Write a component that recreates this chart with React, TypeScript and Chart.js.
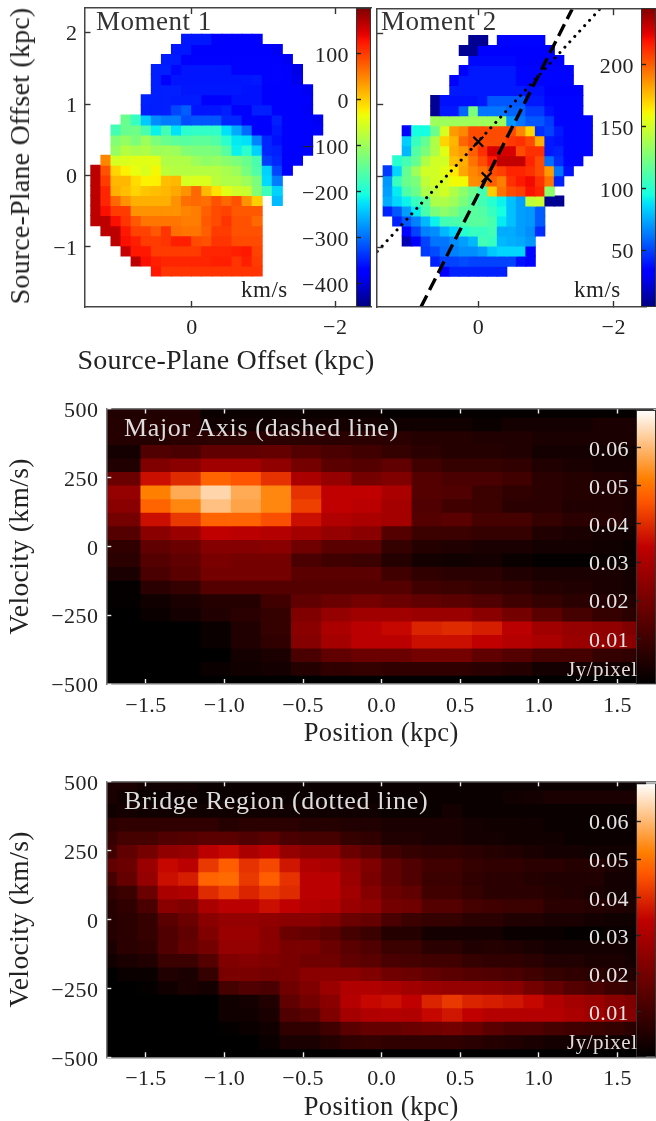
import React, { useEffect, useRef } from "react";
import { Chart, registerables } from "chart.js";

Chart.register(...registerables);

const _ = null;
const FONT = "'Liberation Serif'";

const momentColumns = [1.342, 1.201, 1.06, 0.92, 0.779, 0.638, 0.497, 0.356, 0.216, 0.075, -0.066, -0.207, -0.348, -0.488, -0.629, -0.77, -0.911, -1.052, -1.192, -1.333, -1.474, -1.615, -1.756];
const momentRows = [1.907, 1.766, 1.625, 1.484, 1.343, 1.202, 1.061, 0.92, 0.779, 0.638, 0.497, 0.356, 0.215, 0.074, -0.067, -0.208, -0.349, -0.49, -0.631, -0.772, -0.913, -1.054, -1.195, -1.336];

const moment1Start = [9, 8, 7, 6, 6, 6, 5, 5, 3, 2, 2, 2, 1, 0, 0, 0, 0, 0, 0, 1, 2, 3, 4, 6];
const moment1Values = [
  [-355, -355, -355, -370, -372, -372, -372, -370],
  [-355, -355, -372, -372, -372, -372, -372, -372, -372, -372, -385],
  [-352, -352, -368, -368, -368, -368, -368, -368, -368, -368, -368, -372, -385],
  [-350, -350, -365, -356, -356, -356, -356, -356, -368, -368, -368, -368, -368, -372, -392],
  [-350, -372, -356, -356, -356, -356, -356, -356, -356, -356, -354, -368, -368, -372, -388],
  [-350, -350, -350, -355, -355, -355, -355, -355, -355, -358, -358, -370, -372, -372, -372, -385],
  [-348, -350, -350, -352, -352, -352, -375, -375, -375, -358, -358, -358, -372, -372, -372, -372, -378],
  [-350, -350, -350, -325, -310, -356, -356, -356, -350, -372, -372, -350, -350, -372, -372, -372, -382],
  [-140, -180, -240, -280, -290, -290, -320, -315, -315, -315, -345, -345, -372, -372, -372, -350, -372, -372, -372, -385],
  [-170, -140, -135, -165, -215, -170, -225, -190, -185, -185, -185, -225, -260, -300, -372, -372, -355, -372, -372, -372, -380],
  [-120, -105, -125, -100, -125, -140, -150, -155, -150, -150, -160, -190, -220, -225, -285, -345, -360, -372, -372, -372],
  [-105, -80, -90, -85, -100, -95, -100, -120, -125, -125, -130, -155, -215, -190, -235, -345, -350, -372, -372, -372],
  [50, -55, -50, -45, -45, -45, -85, -85, -85, -100, -110, -105, -115, -125, -140, -165, -330, -345, -372, -372],
  [165, 85, -5, -25, -40, -50, -30, -75, -80, -80, -80, -80, -80, -90, -100, -130, -160, -235, -325, -372],
  [165, 100, 15, 15, -10, -25, -25, 10, 15, -55, -50, -50, -75, -85, -85, -100, -125, -230, -290],
  [165, 115, 20, 10, -5, 5, 10, 15, 25, 40, 70, 15, -15, -45, -60, -65, -120, -175, -235],
  [165, 115, 70, 40, 20, 20, 20, 20, 40, 65, 70, 65, 85, 70, 85, 40, 0, _, -250],
  [165, 130, 100, 100, 40, 40, 40, 40, 40, 50, 55, 75, 90, 95, 80, 80, 80],
  [165, 165, 130, 105, 80, 60, 60, 60, 60, 55, 55, 80, 90, 105, 85, 85, 70],
  [165, 165, 125, 95, 95, 80, 105, 65, 60, 60, 75, 100, 100, 85, 85, 85],
  [165, 130, 120, 100, 100, 105, 120, 120, 90, 85, 105, 105, 90, 90, 90],
  [160, 125, 125, 100, 100, 100, 100, 100, 115, 115, 115, 120, 125, 95],
  [165, 130, 120, 115, 115, 115, 115, 115, 120, 120, 105, 120, 100],
  [125, 105, 105, 105, 105, 105, 105, 105, 105, 105, 105],
];

const moment2Start = [9, 8, 9, 8, 7, 7, 5, 5, 5, 2, 2, 2, 1, 0, 0, 0, 0, 0, 1, 2, 2, 4, 5, 6];
const moment2Values = [
  [8, 8, _, 35, 35, 35, 35, 35],
  [8, 8, 33, 33, 33, 33, 33, 33, 33, 33],
  [36, 36, 36, 36, 36, 33, 33, 33, 33, 33],
  [33, 40, 40, 40, 40, 40, 35, 35, 35, 35, 35, 35],
  [33, 40, 40, 40, 40, 40, 40, 35, 35, 35, 35, 35, 35],
  [40, 40, 40, 40, 40, 40, 40, 40, 38, 38, 33, 33, 33, 33],
  [8, 38, 38, 38, 38, 40, 55, 55, 55, 55, 40, 40, 35, 35, 35, 35],
  [8, 40, 40, 58, 125, 62, 62, 62, 58, 58, 48, 48, 38, 35, 35, 35],
  [135, 135, 135, 135, 135, 135, 135, 135, 70, 62, 55, 55, 48, 35, 35, 35, 35],
  [35, 95, 95, 120, 152, 185, 190, 205, 205, 205, 205, 205, 190, 170, 45, 50, 40, 35, 35, 35],
  [83, 105, 118, 140, 170, 178, 198, 205, 205, 205, 205, 210, 212, 205, 180, 40, 38, 35, 35, 35],
  [78, 113, 125, 140, 155, 180, 185, 200, 212, 228, 228, 228, 205, 212, 212, 40, 42, 35, 35, 35],
  [100, 108, 118, 140, 150, 150, 175, 180, 195, 205, 218, 232, 232, 232, 215, 205, 60, 45, 35, 35],
  [48, 85, 118, 135, 150, 150, 155, 165, 182, 190, 195, 205, 208, 215, 215, 212, 205, 185, 62, 38],
  [70, 105, 120, 125, 145, 150, 152, 160, 160, 188, 190, 200, 192, 212, 218, 222, 212, 195, 42],
  [72, 90, 112, 120, 140, 145, 150, 140, 130, 120, 108, 172, 195, 205, 208, 220, 215, 130],
  [75, 85, 92, 105, 115, 140, 140, 135, 125, 115, 108, 100, 92, 80, 72, 145, 148, 8, 8],
  [42, 55, 72, 90, 110, 125, 130, 125, 115, 115, 113, 105, 95, 80, 72, 70, 56],
  [42, 55, 65, 78, 92, 108, 110, 112, 115, 115, 110, 90, 80, 72, 70, 56],
  [35, 50, 65, 68, 78, 85, 100, 105, 105, 108, 75, 75, 72, 68, 45],
  [15, 33, 50, 62, 62, 68, 72, 78, 108, 105, 78, 76, 74, 70],
  [48, 52, 60, 65, 68, 68, 72, 82, 85, 85, 85, 35],
  [42, 50, 50, 52, 50, 50, 50, 50, 50, 38, 35],
  [33, 42, 42, 42, 42, 42, 42],
];

const dashedX = [0.853, -1.385];
const dashedY = [-1.84, 2.346];
const dottedX = [1.5, -1.794];
const dottedY = [-1.06, 2.346];
const crossX = [0.004, -0.12];
const crossY = [0.483, -0.017];

const velocityRows = [493, 444, 394, 345, 296, 247, 197, 148, 99, 49, 0, -49, -99, -148, -197, -247, -296, -345, -394, -444, -493];

const majorColumns = [-1.82, -1.628, -1.436, -1.245, -1.053, -0.861, -0.67, -0.478, -0.286, -0.095, 0.097, 0.289, 0.48, 0.672, 0.864, 1.055, 1.247, 1.439, 1.63];
// flux in mJy/pixel
const majorFlux = [
  [4, 4, 4, 0, 0, 0, 0, 0, 0, -1, -1, -1, -1, -1, -1, -1, -1, -1],
  [5, 5, 5, 1, 1, 1, 1, 2, 2, 1, 1, 1, 0, 2, 2, 2, 3, 3],
  [5, 5, 6, 6, 6, 6, 6, 6, 6, 6, 5, 5, 4, 4, 3, 3, 3, 3],
  [2, 13, 12, 16, 16, 17, 14, 12, 10, 8, 6, 5, 5, 4, 2, 2, 2, 1],
  [4, 22, 24, 28, 28, 25, 20, 15, 14, 16, 10, 8, 8, 7, 4, 3, 2, 2],
  [18, 36, 40, 48, 46, 41, 30, 26, 20, 22, 14, 12, 12, 10, 6, 5, 4, 3],
  [26, 52, 58, 64, 58, 53, 41, 34, 34, 30, 14, 13, 9, 7, 6, 5, 4, 3],
  [24, 48, 53, 61, 57, 53, 43, 34, 33, 29, 13, 10, 9, 6, 6, 4, 4, 3],
  [20, 36, 42, 48, 48, 45, 36, 31, 30, 29, 14, 15, 11, 11, 8, 6, 5, 3],
  [14, 24, 27, 34, 33, 32, 29, 26, 24, 14, 9, 9, 8, 8, 4, 3, 2, 1],
  [7, 16, 18, 23, 23, 24, 19, 15, 15, 8, 5, 4, 3, 3, 2, 2, 1, 0],
  [6, 14, 16, 21, 20, 20, 12, 10, 9, 5, 2, 1, 2, 0, -1, -1, 0, 0],
  [3, 12, 15, 20, 20, 20, 15, 15, 15, 10, 7, 6, 6, 4, 3, 3, 3, 2],
  [-1, 6, 8, 14, 14, 14, 14, 14, 14, 14, 10, 9, 8, 7, 5, 4, 3, 2],
  [-1, 1, 3, 5, 5, 10, 16, 18, 20, 18, 16, 15, 13, 10, 8, 6, 5, 4],
  [-2, 0, 2, 4, 6, 8, 22, 26, 28, 28, 27, 27, 24, 20, 15, 11, 8, 6],
  [-2, -2, -2, 0, 4, 8, 24, 30, 33, 35, 39, 40, 38, 33, 28, 26, 25, 22],
  [-2, -2, -2, 0, 4, 7, 23, 29, 33, 33, 36, 36, 34, 32, 30, 27, 26, 24],
  [-2, -2, -2, -2, 2, 3, 12, 16, 18, 18, 20, 20, 16, 14, 11, 11, 8, 7],
  [-2, -2, -2, 0, 1, 2, 5, 7, 8, 7, 7, 7, 6, 5, 2, 2, 2, 1],
  [-2, -2, -2, -2, -2, -2, -2, -2, -2, -2, -2, -2, -2, -2, -2, -2, -2, -2],
];

const bridgeColumns = [-1.745, -1.616, -1.487, -1.357, -1.228, -1.099, -0.97, -0.841, -0.712, -0.582, -0.453, -0.324, -0.195, -0.066, 0.064, 0.193, 0.322, 0.451, 0.58, 0.71, 0.839, 0.968, 1.097, 1.226, 1.356, 1.485, 1.614];
const bridgeFlux = [
  [3, 3, 1, 1, 1, 0, 0, 0, 0, 0, 0, 0, 0, 0, 0, 0, 0, 0, 0, 0, 0, 0, 0, 0, 0, 0, 0],
  [3, 1, 0, 0, 0, 0, 0, 0, 0, 0, 0, 0, 0, 0, 0, 0, 0, 0, 0, 0, 1, 2, 3, 3, 3, 3, 3],
  [1, 2, 1, 1, 1, 1, 1, 1, 1, 1, 1, 1, 1, 1, 0, 0, 0, 2, 0, 0, 0, 0, 0, 0, 0, 0, 0],
  [6, 7, 7, 7, 7, 7, 5, 6, 6, 6, 5, 5, 4, 4, 3, 3, 3, 3, 2, 1, 1, 1, 0, 0, 0, 0, 0],
  [8, 11, 11, 13, 14, 15, 15, 13, 15, 12, 11, 11, 8, 7, 4, 4, 3, 3, 2, 2, 1, 1, 1, 0, 0, 0, 0],
  [10, 16, 20, 25, 26, 33, 35, 30, 33, 26, 24, 24, 18, 15, 10, 8, 7, 7, 6, 5, 4, 3, 2, 2, 1, 1, 1],
  [16, 18, 27, 35, 33, 42, 47, 41, 44, 37, 31, 30, 26, 22, 16, 13, 10, 10, 8, 7, 7, 6, 6, 5, 5, 3, 2],
  [11, 17, 26, 36, 38, 48, 49, 42, 47, 41, 33, 33, 27, 21, 16, 13, 9, 9, 7, 6, 6, 5, 4, 4, 4, 2, 2],
  [7, 9, 18, 30, 31, 40, 43, 39, 42, 40, 33, 33, 28, 23, 18, 16, 10, 10, 8, 6, 6, 6, 5, 4, 3, 2, 2],
  [5, 7, 12, 24, 22, 30, 33, 33, 36, 34, 32, 31, 27, 25, 20, 19, 14, 14, 11, 10, 9, 9, 6, 6, 5, 4, 3],
  [5, 6, 8, 15, 18, 24, 26, 26, 25, 24, 24, 22, 18, 17, 12, 9, 8, 8, 6, 6, 4, 4, 3, 3, 2, 1, 1],
  [5, 6, 8, 13, 16, 22, 27, 27, 24, 18, 17, 15, 11, 9, 5, 5, 2, 2, 2, 2, 0, 0, 0, -1, -1, 0, 0],
  [3, 6, 7, 13, 17, 20, 26, 26, 24, 21, 21, 18, 15, 13, 9, 9, 6, 6, 4, 5, 4, 3, 2, 2, 2, 2, 1],
  [1, 3, 4, 9, 9, 14, 22, 23, 22, 21, 19, 19, 16, 15, 12, 11, 10, 10, 8, 7, 7, 6, 4, 4, 3, 3, 2],
  [-2, 0, 0, 4, 3, 8, 21, 21, 20, 21, 24, 24, 24, 22, 19, 18, 16, 15, 14, 13, 12, 10, 8, 7, 6, 5, 4],
  [-2, -2, -1, 1, 3, 2, 11, 13, 12, 19, 22, 27, 31, 31, 30, 28, 27, 26, 26, 25, 24, 20, 17, 14, 12, 9, 8],
  [-2, -2, -2, -2, -2, -2, 1, 2, 4, 16, 20, 24, 32, 35, 36, 34, 39, 42, 39, 38, 37, 35, 31, 29, 27, 24, 22],
  [-2, -2, -2, -2, -2, -2, 1, 1, 3, 13, 15, 22, 29, 31, 32, 31, 35, 37, 34, 32, 32, 32, 32, 30, 28, 25, 23],
  [-2, -2, -2, -2, -2, -2, -1, 0, 1, 7, 7, 10, 15, 17, 17, 18, 19, 20, 18, 15, 13, 13, 11, 10, 9, 8, 6],
  [-2, -2, -2, -2, -2, -2, -2, -2, 0, 3, 3, 5, 7, 8, 7, 7, 7, 7, 6, 5, 4, 3, 2, 2, 2, 1, 1],
  [-2, -2, -2, -2, -2, -2, -2, -2, -2, -2, -2, -2, -2, -2, -2, -2, -2, -2, -2, -2, -2, -2, -2, -2, -2, -2, -2],
];

const momentYTicks = [-1, 0, 1, 2];
const momentXTicks = [0, -2];
const positionTicks = [-1.5, -1, -0.5, 0, 0.5, 1, 1.5];
const velocityTicks = [-500, -250, 0, 250, 500];
const moment1BarTicks = [-400, -300, -200, -100, 0, 100];
const moment2BarTicks = [50, 100, 150, 200];
const fluxBarTicks = [0.01, 0.02, 0.03, 0.04, 0.05, 0.06];

const M1_RANGE = [-450, 199];
const M2_RANGE = [4, 246];
const FLUX_RANGE = [-0.002, 0.0699];

function lerp(t: number, pts: number[][]) {
  if (t <= pts[0][0]) return pts[0][1];
  for (let i = 1; i < pts.length; i++) {
    if (t <= pts[i][0]) {
      const [a, va] = pts[i - 1];
      const [b, vb] = pts[i];
      return va + ((t - a) / (b - a)) * (vb - va);
    }
  }
  return pts[pts.length - 1][1];
}
function jet(t: number) {
  const r = lerp(t, [[0.35, 0], [0.66, 1], [0.89, 1], [1, 0.5]]);
  const g = lerp(t, [[0.125, 0], [0.375, 1], [0.64, 1], [0.91, 0]]);
  const b = lerp(t, [[0, 0.5], [0.11, 1], [0.34, 1], [0.65, 0]]);
  return `rgb(${r * 255},${g * 255},${b * 255})`;
}
function gistHeat(t: number) {
  const c = (x: number) => Math.max(0, Math.min(1, x)) * 255;
  return `rgb(${c(1.5 * t)},${c(2 * t - 1)},${c(4 * t - 3)})`;
}

function heatDatasets(columns: number[], rows: number[], half: number, grid: (number | null)[][], color: (v: number) => string) {
  return rows.map((y, j) => {
    const data: any[] = [];
    const bg: string[] = [];
    grid[j].forEach((v, i) => {
      if (v === null) return;
      data.push({ x: columns[i], y: [y - half, y + half] });
      bg.push(color(v));
    });
    return { type: "bar", grouped: false, barPercentage: 1, categoryPercentage: 1, borderWidth: 0, inflateAmount: 0.5, data, backgroundColor: bg };
  });
}
function padRows(starts: number[], values: (number | null)[][]) {
  return values.map((r, j) => [...new Array(starts[j]).fill(null), ...r]);
}
const fmtMinus = (v: number, digits = 0) => {
  const s = Math.abs(v).toFixed(digits);
  return v < 0 ? "\u2212" + s : s;
};

const TICK_FONT = { family: FONT, size: 22 };

function axis(o: any) {
  return {
    type: "linear",
    position: o.position,
    min: o.min,
    max: o.max,
    reverse: !!o.reverse,
    offset: false,
    afterFit: (s: any) => {
      if (o.position === "left" || o.position === "right") s.width = o.size;
      else s.height = o.size;
      s.paddingTop = 0;
      s.paddingBottom = 0;
      s.paddingLeft = 0;
      s.paddingRight = 0;
    },
    afterBuildTicks: (s: any) => {
      s.ticks = o.ticks.map((value: number) => ({ value }));
    },
    border: { display: o.border !== false, color: o.frame, width: 1.5, z: 1 },
    grid: { offset: false, drawOnChartArea: false, drawTicks: true, tickLength: -(o.tickLen ?? 6), tickColor: o.tick, tickWidth: 1.4, z: 1 },
    ticks: {
      display: !!o.labels,
      autoSkip: false,
      maxRotation: 0,
      padding: o.pad ?? 12,
      labelOffset: o.labelOffset ?? 0,
      color: o.text ?? "#222",
      font: TICK_FONT,
      callback: (v: number) => (o.labels ? o.labels(v) : ""),
    },
    title: o.title
      ? { display: true, text: o.title, color: "#222", font: { family: FONT, size: o.titleSize }, padding: { top: o.titlePad, bottom: o.titlePad } }
      : { display: false },
  };
}

const spacing = {
  id: "spacing",
  beforeDraw(c: any) {
    c.ctx.letterSpacing = "0.4px";
  },
};

function base(datasets: any[], scales: any, padding: any) {
  return {
    type: "bar",
    data: { datasets },
    plugins: [spacing],
    options: {
      responsive: false,
      animation: false,
      events: [],
      layout: { padding },
      plugins: { legend: { display: false }, tooltip: { enabled: false }, title: { display: false } },
      scales,
    },
  };
}

const overlays = () => [
  { type: "scatter", data: crossX.map((x, i) => ({ x, y: crossY[i] })), pointStyle: "crossRot", pointRadius: 7, pointBorderWidth: 2.2, borderColor: "#000", backgroundColor: "#000", showLine: false },
  { type: "line", data: dashedX.map((x, i) => ({ x, y: dashedY[i] })), borderColor: "#000", borderWidth: 3.4, borderDash: [13, 6], pointRadius: 0 },
  { type: "line", data: dottedX.map((x, i) => ({ x, y: dottedY[i] })), borderColor: "#000", borderWidth: 3, borderDash: [0.1, 7.2], borderCapStyle: "round", pointRadius: 0 },
];

const momentScales = (opts: any) => ({
  x: axis({ position: "bottom", min: opts.xMin, max: 1.5, reverse: true, size: opts.bottom, ticks: momentXTicks, frame: "#444", tick: "#333", labels: (v: number) => fmtMinus(v), pad: 14 }),
  x2: axis({ position: "top", min: opts.xMin, max: 1.5, reverse: true, size: 0, ticks: momentXTicks, frame: "#444", tick: "#333" }),
  y: axis({ position: "left", min: -1.84, max: 2.346, size: opts.left, ticks: momentYTicks, frame: "#444", tick: "#333", labels: opts.yLabels ? (v: number) => fmtMinus(v) : null, pad: 13, labelOffset: 2 }),
});

const moment1Config = () =>
  base(
    heatDatasets(momentColumns, momentRows, 0.0705, padRows(moment1Start, moment1Values), (v) => jet((v - M1_RANGE[0]) / (M1_RANGE[1] - M1_RANGE[0]))),
    momentScales({ xMin: -2.5, bottom: 73, left: 84.5, yLabels: true }),
    { top: 8, right: 1, left: 0, bottom: 0 }
  );

const moment2Config = () =>
  base(
    [...overlays(), ...heatDatasets(momentColumns, momentRows, 0.0705, padRows(moment2Start, moment2Values), (v) => jet((v - M2_RANGE[0]) / (M2_RANGE[1] - M2_RANGE[0])))],
    momentScales({ xMin: -2.49, bottom: 73, left: 2.75, yLabels: false }),
    { top: 8, right: 0, left: 0, bottom: 0 }
  );

const fluxColor = (v: number) => gistHeat((v / 1000 - FLUX_RANGE[0]) / (FLUX_RANGE[1] - FLUX_RANGE[0]));

const pvScales = (bottom: number, xTitlePad: number) => ({
  x: axis({ position: "bottom", min: -1.752, max: 1.745, size: bottom, ticks: positionTicks, frame: "#777", tick: "#eee", tickLen: 5, labels: (v: number) => fmtMinus(v, 1), pad: 14, title: "Position (kpc)", titleSize: 26.5, titlePad: xTitlePad }),
  x2: axis({ position: "top", min: -1.752, max: 1.745, size: 0, ticks: positionTicks, frame: "#777", tick: "#eee", tickLen: 5 }),
  y: axis({ position: "left", min: -500, max: 500, size: 106.3, ticks: velocityTicks, frame: "#777", tick: "#eee", tickLen: 5, labels: (v: number) => fmtMinus(v), pad: 13, labelOffset: 2.5, title: "Velocity (km/s)", titleSize: 27.5, titlePad: 4 }),
});

const majorConfig = () =>
  base(heatDatasets(majorColumns, velocityRows, 24.65, majorFlux.map((r) => [r[0], ...r]), fluxColor), pvScales(71, 5), { top: 13.5, right: 0, left: 0, bottom: 0 });
const bridgeConfig = () =>
  base(heatDatasets(bridgeColumns, velocityRows, 24.65, bridgeFlux, fluxColor), pvScales(70.7, 4), { top: 13.3, right: 0, left: 0, bottom: 0 });

function colorbarConfig(o: any) {
  return {
    type: "bar",
    data: {
      labels: [""],
      datasets: [
        {
          data: [o.range],
          barPercentage: 1,
          categoryPercentage: 1,
          borderWidth: 1,
          borderColor: "#333",
          borderSkipped: false,
          inflateAmount: 0,
          backgroundColor: (c: any) => {
            const a = c.chart.chartArea;
            if (!a) return "transparent";
            const g = c.chart.ctx.createLinearGradient(0, a.bottom, 0, a.top);
            for (let n = 0; n <= 64; n++) g.addColorStop(n / 64, o.cmap(n / 64));
            return g;
          },
        },
      ],
    },
    plugins: [spacing],
    options: {
      responsive: false,
      animation: false,
      events: [],
      layout: { padding: o.padding },
      plugins: { legend: { display: false }, tooltip: { enabled: false } },
      scales: {
        x: { display: false, offset: true },
        y: axis({ position: "left", min: o.range[0], max: o.range[1], size: o.left, ticks: o.ticks, border: false, frame: "#333", tick: "#222", tickLen: 5, labels: o.labels, text: o.text, pad: 12, labelOffset: 2.5 }),
      },
    },
  };
}

function Plot({ left, top, width, height, config }: any) {
  const ref = useRef<HTMLCanvasElement | null>(null);
  useEffect(() => {
    const chart = new Chart(ref.current as HTMLCanvasElement, config());
    return () => chart.destroy();
  }, []);
  return <canvas ref={ref} width={width} height={height} style={{ position: "absolute", left, top, width, height, filter: "blur(0.4px)" }} />;
}

function Label({ x, y, size, color, spacingPx = 0.5, transform, children }: any) {
  return (
    <div style={{ position: "absolute", left: x, top: y, fontFamily: FONT, fontSize: size, lineHeight: 1, color, whiteSpace: "nowrap", letterSpacing: `${spacingPx}px`, transform }}>
      {children}
    </div>
  );
}

export default function App() {
  useEffect(() => {
    document.body.style.margin = "0";
    document.body.style.background = "#fff";
  }, []);
  return (
    <div style={{ position: "relative", width: 656, height: 1121, overflow: "hidden", background: "#fff" }}>
      <Plot left={0} top={0} width={372} height={380} config={moment1Config} />
      <Plot left={368} top={0} width={288} height={380} config={moment2Config} />
      <Plot left={280} top={0} width={92} height={320} config={() => colorbarConfig({ range: M1_RANGE, cmap: jet, left: 76, ticks: moment1BarTicks, labels: (v: number) => fmtMinus(v), text: "#222", padding: { top: 8, bottom: 13, right: 1, left: 0 } })} />
      <Plot left={560} top={0} width={96} height={320} config={() => colorbarConfig({ range: M2_RANGE, cmap: jet, left: 81, ticks: moment2BarTicks, labels: (v: number) => fmtMinus(v), text: "#222", padding: { top: 8, bottom: 13, right: 0, left: 0 } })} />
      <Plot left={0} top={395} width={656} height={360} config={majorConfig} />
      <Plot left={560} top={395} width={96} height={300} config={() => colorbarConfig({ range: FLUX_RANGE, cmap: gistHeat, left: 76, ticks: fluxBarTicks, labels: (v: number) => v.toFixed(2), text: "#e4e4e4", padding: { top: 15, bottom: 11, right: 0, left: 0 } })} />
      <Plot left={0} top={768} width={656} height={360} config={bridgeConfig} />
      <Plot left={560} top={768} width={96} height={300} config={() => colorbarConfig({ range: FLUX_RANGE, cmap: gistHeat, left: 76, ticks: fluxBarTicks, labels: (v: number) => v.toFixed(2), text: "#e4e4e4", padding: { top: 15.3, bottom: 10.7, right: 0, left: 0 } })} />
      <Label x={226} y={360} size={28} spacingPx={0.2} color="#222" transform="translate(-50%,-50%)">Source-Plane Offset (kpc)</Label>
      <Label x={20} y={156} size={28} spacingPx={0.2} color="#222" transform="translate(-50%,-50%) rotate(-90deg)">Source-Plane Offset (kpc)</Label>
      <Label x={96} y={8} size={27} color="#333">Moment 1</Label>
      <Label x={381} y={8} size={27} color="#333">Moment 2</Label>
      <Label x={241} y={278} size={23} color="#222">km/s</Label>
      <Label x={574} y={278} size={23} color="#222">km/s</Label>
      <Label x={124} y={415} size={26} spacingPx={0.65} color="#ddd">Major Axis (dashed line)</Label>
      <Label x={124} y={788} size={26} spacingPx={0.65} color="#ddd">Bridge Region (dotted line)</Label>
      <Label x={567} y={659} size={21} color="#ddd">Jy/pixel</Label>
      <Label x={567} y={1032} size={21} color="#ddd">Jy/pixel</Label>
    </div>
  );
}
